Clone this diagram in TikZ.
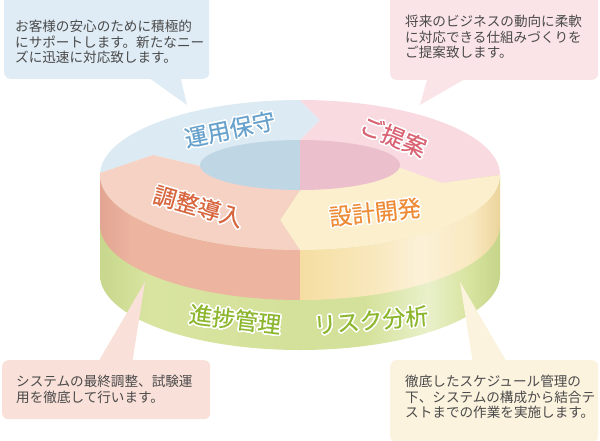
\documentclass[tikz,border=0pt]{standalone}
\usepackage{fontspec}
\setmainfont{Noto Sans CJK JP}
\newfontfamily\phasefont[FakeBold=0.4]{Noto Sans CJK JP}
\usepackage[copies]{contour}
\contourlength{1.5pt}
\contournumber{24}

\definecolor{topblue}{HTML}{DCEAF3}
\definecolor{toppink}{HTML}{F8DAE0}
\definecolor{topyellow}{HTML}{FCEFCD}
\definecolor{topsalmon}{HTML}{F6D2C5}
\definecolor{holeblue}{HTML}{BFD6E5}
\definecolor{holepink}{HTML}{EBBFCB}
\definecolor{salmonsideA}{HTML}{E2A592}
\definecolor{salmonsideB}{HTML}{EDB4A0}
\definecolor{yellowsideA}{HTML}{F6DEA2}
\definecolor{yellowsideB}{HTML}{F9E9C0}
\definecolor{yellowsideC}{HTML}{FCF1D8}
\definecolor{yellowsideD}{HTML}{EBD39B}
\definecolor{greenA}{HTML}{C7D78C}
\definecolor{greenB}{HTML}{D8E4A0}
\definecolor{greenC}{HTML}{D4E19A}
\definecolor{greenD}{HTML}{E9F0CA}
\definecolor{greenE}{HTML}{C5D589}
\definecolor{maintfill}{HTML}{DFECF5}
\definecolor{proposefill}{HTML}{FBE4E8}
\definecolor{adjustfill}{HTML}{F9E0D8}
\definecolor{devfill}{HTML}{FCF3DF}
\definecolor{maintcol}{HTML}{68A2CC}
\definecolor{proposecol}{HTML}{DA6373}
\definecolor{adjustcol}{HTML}{D8663F}
\definecolor{devcol}{HTML}{EE8C38}
\definecolor{greencol}{HTML}{8DB72F}
\definecolor{notegray}{HTML}{4A4A4A}

\pgfdeclarehorizontalshading{salmonside}{100bp}{color(0bp)=(salmonsideA); color(25bp)=(salmonsideA); color(33bp)=(salmonsideB); color(100bp)=(salmonsideB)}
\pgfdeclarehorizontalshading{yellowside}{100bp}{color(0bp)=(yellowsideA); color(25bp)=(yellowsideA); color(45bp)=(yellowsideB); color(55bp)=(yellowsideC); color(68bp)=(yellowsideB); color(75bp)=(yellowsideD); color(100bp)=(yellowsideD)}
\pgfdeclarehorizontalshading{greenside}{100bp}{color(0bp)=(greenA); color(25bp)=(greenA); color(31bp)=(greenB); color(50bp)=(greenC); color(58bp)=(greenC); color(66bp)=(greenD); color(71bp)=(greenB); color(75bp)=(greenE); color(100bp)=(greenE)}

\tikzset{
	bubble/.style={rounded corners=6pt, inner sep=0pt},
	note/.style={anchor=north west, inner sep=0pt, align=left, text=notegray, font=\fontsize{13.6}{15.5}\selectfont},
	phase/.style={inner sep=0pt, font=\phasefont\fontsize{23}{23}\selectfont},
}

\begin{document}
\begin{tikzpicture}[x=1pt,y=1pt]
	\useasboundingbox (0,0) rectangle (600,-440);

	\shade[shading=greenside] (100,-175) -- (100,-275) arc[start angle=180,end angle=360,x radius=200,y radius=75] -- (500,-175) -- cycle;
	\shade[shading=salmonside] (100,-175) -- (100,-225) arc[start angle=180,end angle=270,x radius=200,y radius=75] -- (300,-250) arc[start angle=270,end angle=180,x radius=200,y radius=75] -- cycle;
	\shade[shading=yellowside] (300,-250) -- (300,-300) arc[start angle=270,end angle=360,x radius=200,y radius=75] -- (500,-175) arc[start angle=0,end angle=-90,x radius=200,y radius=75] -- cycle;

	\begin{scope}
	  \clip (300,-175) ellipse[x radius=200,y radius=75];
	  \fill[topblue] (300,-165) -- (300,-140) -- (320,-120) -- (300,-100) -- (300,-80) -- (80,-80) -- (80,-180) -- (100,-173) -- (153,-155) -- (200,-166) -- cycle;
	  \fill[toppink] (300,-165) -- (300,-140) -- (320,-120) -- (300,-100) -- (300,-80) -- (520,-80) -- (520,-172) -- (500,-175) -- (442,-183) -- (400,-168) -- cycle;
	  \fill[topyellow] (300,-165) -- (400,-168) -- (442,-183) -- (500,-175) -- (520,-172) -- (520,-270) -- (300,-270) -- (300,-250) -- (280,-220) -- (300,-190) -- cycle;
	  \fill[topsalmon] (300,-165) -- (300,-190) -- (280,-220) -- (300,-250) -- (300,-270) -- (80,-270) -- (80,-180) -- (100,-173) -- (153,-155) -- (200,-166) -- cycle;
	\end{scope}
	\fill[holeblue] (300,-140) arc[start angle=90,end angle=270,x radius=100,y radius=25] -- cycle;
	\fill[holepink] (300,-140) arc[start angle=90,end angle=-90,x radius=100,y radius=25] -- cycle;

	\node[phase, text=maintcol, rotate=12] (maint) at (230,-130) {\contour{white}{運用保守}};
	\node[phase, text=proposecol, rotate=-22] (propose) at (393,-137) {\contour{white}{ご提案}};
	\node[phase, text=adjustcol, rotate=-16] (adjust) at (198,-207) {\contour{white}{調整導入}};
	\node[phase, text=devcol, rotate=6] (dev) at (375,-213) {\contour{white}{設計開発}};
	\node[phase, text=greencol, rotate=-7] (progress) at (235,-320) {\contour{white}{進捗管理}};
	\node[phase, text=greencol, rotate=5] (risk) at (371,-321) {\contour{white}{リスク分析}};

	\coordinate (mainttip) at (187,-105);
	\coordinate (proposetip) at (420,-105);
	\coordinate (adjusttip) at (145,-282);
	\coordinate (devtip) at (460,-282);

	\node[bubble, fill=maintfill, minimum width=205pt, minimum height=90pt, anchor=south west] (maintbox) at (4,-79) {};
	\fill[maintfill] (145,-75) -- (mainttip) -- (180,-75) -- cycle;
	\node[bubble, fill=proposefill, minimum width=208pt, minimum height=90pt, anchor=south west] (proposebox) at (390,-80) {};
	\fill[proposefill] (428,-76) -- (proposetip) -- (470,-76) -- cycle;
	\node[bubble, fill=adjustfill, minimum width=208pt, minimum height=59pt, anchor=north west] (adjustbox) at (2,-360) {};
	\fill[adjustfill] (97,-364) -- (adjusttip) -- (132,-364) -- cycle;
	\node[bubble, fill=devfill, minimum width=208pt, minimum height=82pt, anchor=north west] (devbox) at (390,-360) {};
	\fill[devfill] (473,-364) -- (devtip) -- (508,-364) -- cycle;

	\node[note] (maintnote) at (15,-20) {お客様の安心のために積極的\\にサポートします。新たなニー\\ズに迅速に対応致します。};
	\node[note] (proposenote) at (405,-15) {将来のビジネスの動向に柔軟\\に対応できる仕組みづくりを\\ご提案致します。};
	\node[note] (adjustnote) at (16,-375) {システムの最終調整、試験運\\用を徹底して行います。};
	\node[note] (devnote) at (405,-375) {徹底したスケジュール管理の\\下、システムの構成から結合テ\\ストまでの作業を実施します。};
\end{tikzpicture}
\end{document}
